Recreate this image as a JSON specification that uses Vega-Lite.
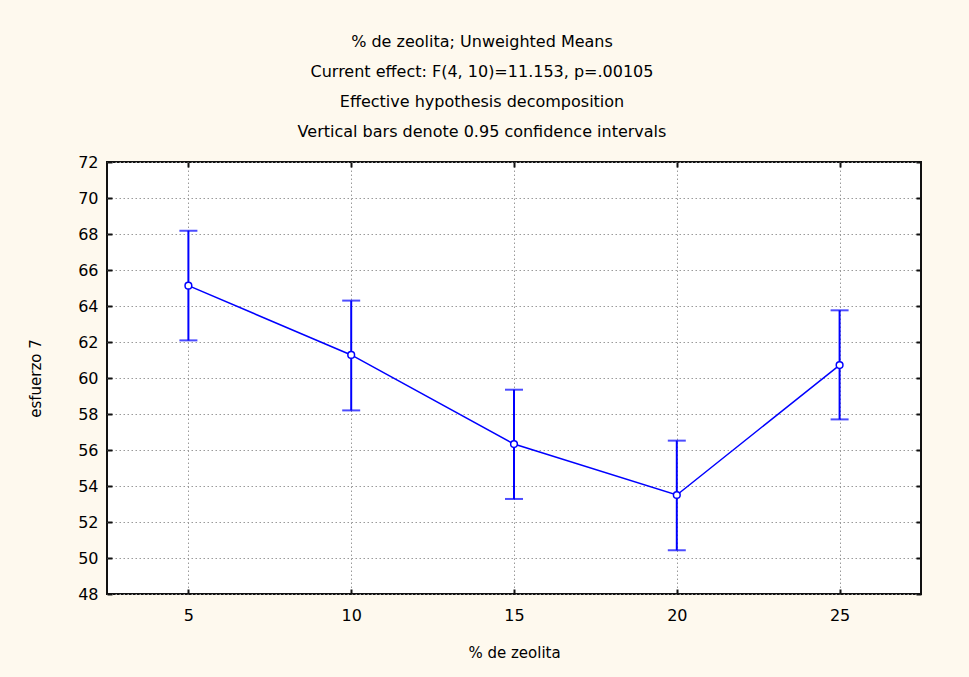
{
  "$schema": "https://vega.github.io/schema/vega-lite/v6.json",
  "width": 814,
  "height": 432,
  "autosize": {"type": "none"},
  "padding": {"left": 107, "top": 162, "right": 48, "bottom": 83},
  "background": "#FEF9EE",
  "config": {
    "view": {"fill": "white", "stroke": "#111111", "strokeWidth": 2},
    "font": "DejaVu Sans",
    "axis": {
      "grid": true,
      "gridColor": "#9A9A9A",
      "gridDash": [1.5, 2.5],
      "gridWidth": 1,
      "domain": false,
      "tickColor": "#111111",
      "tickWidth": 2,
      "tickSize": -5,
      "labelColor": "black",
      "labelFontSize": 16,
      "titleFontSize": 15,
      "titleFontWeight": "normal",
      "titleColor": "black"
    }
  },
  "title": {
    "text": [
      "% de zeolita; Unweighted Means",
      "Current effect: F(4, 10)=11.153, p=.00105",
      "Effective hypothesis decomposition",
      "Vertical bars denote 0.95 confidence intervals"
    ],
    "fontSize": 16,
    "fontWeight": "normal",
    "lineHeight": 30,
    "offset": 14,
    "dx": -32,
    "color": "black",
    "font": "DejaVu Sans"
  },
  "data": {
    "values": [
      {"zeolita": 5, "mean": 65.13, "lower": 62.09, "upper": 68.18},
      {"zeolita": 10, "mean": 61.28, "lower": 58.2, "upper": 64.3},
      {"zeolita": 15, "mean": 56.33, "lower": 53.28, "upper": 59.35},
      {"zeolita": 20, "mean": 53.5, "lower": 50.43, "upper": 56.52},
      {"zeolita": 25, "mean": 60.72, "lower": 57.7, "upper": 63.76}
    ]
  },
  "resolve": {"axis": {"x": "independent", "y": "independent"}},
  "layer": [
    {
      "mark": {"type": "rule", "color": "#0000FF", "strokeWidth": 2},
      "encoding": {
        "x": {
          "field": "zeolita",
          "type": "quantitative",
          "scale": {"domain": [2.5, 27.5], "nice": false, "zero": false},
          "axis": {
            "orient": "bottom",
            "values": [5, 10, 15, 20, 25],
            "title": "% de zeolita",
            "labelPadding": 18,
            "titlePadding": 22
          }
        },
        "y": {
          "field": "lower",
          "type": "quantitative",
          "scale": {"domain": [48, 72], "nice": false, "zero": false},
          "axis": {
            "orient": "left",
            "values": [48, 50, 52, 54, 56, 58, 60, 62, 64, 66, 68, 70, 72],
            "title": "esfuerzo 7",
            "labelPadding": 14,
            "titlePadding": 34
          }
        },
        "y2": {"field": "upper"}
      }
    },
    {
      "mark": {"type": "tick", "orient": "horizontal", "color": "#0000FF", "size": 18, "thickness": 2},
      "encoding": {
        "x": {
          "field": "zeolita",
          "type": "quantitative",
          "axis": {"orient": "top", "values": [5, 10, 15, 20, 25], "labels": false, "grid": false, "title": null}
        },
        "y": {
          "field": "lower",
          "type": "quantitative",
          "axis": {"orient": "right", "values": [48, 50, 52, 54, 56, 58, 60, 62, 64, 66, 68, 70, 72], "labels": false, "grid": false, "title": null}
        }
      }
    },
    {
      "mark": {"type": "tick", "orient": "horizontal", "color": "#0000FF", "size": 18, "thickness": 2},
      "encoding": {
        "x": {"field": "zeolita", "type": "quantitative", "axis": null},
        "y": {"field": "upper", "type": "quantitative", "axis": null}
      }
    },
    {
      "mark": {"type": "line", "color": "#0000FF", "strokeWidth": 1.5},
      "encoding": {
        "x": {"field": "zeolita", "type": "quantitative", "axis": null},
        "y": {"field": "mean", "type": "quantitative", "axis": null}
      }
    },
    {
      "mark": {"type": "point", "shape": "circle", "filled": true, "fill": "white", "stroke": "#0000FF", "strokeWidth": 1.5, "size": 45, "opacity": 1},
      "encoding": {
        "x": {"field": "zeolita", "type": "quantitative", "axis": null},
        "y": {"field": "mean", "type": "quantitative", "axis": null}
      }
    }
  ]
}
